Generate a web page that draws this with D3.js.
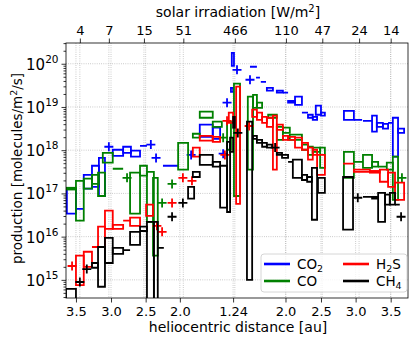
<!DOCTYPE html>
<meta charset="utf-8">
<style>
body { margin: 0; background: #fff; }
text { font-family: "DejaVu Sans", sans-serif; fill: #000; }
.grid line { stroke: #b0b0b0; stroke-width: 0.8; stroke-dasharray: 0.8,1.4; }
.axis path, .axis line { stroke: #000; stroke-width: 0.8; }
.axis text { font-size: 13px; }
</style>
<svg width="415" height="343"></svg>
<script src="https://d3js.org/d3.v7.min.js"></script>
<script>
// x is days from perihelion, y values are log10 of production [molecules/m2/s]
// boxes: [day start, day end, log10 low, log10 high]   markers: [day, log10 value]

var botTickDays = [-365, -284, -204, -125, -2, 119, 201, 281, 362];
var botTickLabels = ["3.5", "3.0", "2.5", "2.0", "1.24", "2.0", "2.5", "3.0", "3.5"];
var topTickDays = [-356, -289, -208, -117, 2, 120, 204, 289, 362];
var topTickLabels = ["4", "7", "15", "51", "466", "110", "47", "24", "14"];

var co2Boxes = [
  [-386, -365, 16.53, 17.11], [-365, -347, 16.64, 16.64], [-347, -328, 17.11, 17.43],
  [-328, -312, 17.15, 17.64], [-312, -298, 16.94, 17.82], [-280, -256, 17.87, 18.01],
  [-256, -238, 17.94, 18.08], [-238, -217, 17.85, 17.99], [-217, -201, 18.10, 18.10],
  [-164, -129, 17.64, 17.64], [-79, -49, 18.31, 18.59], [-49, -32, 18.26, 18.52],
  [-7, -2, 19.35, 19.44], [-5, 0, 19.95, 20.25], [37, 53, 19.93, 19.93],
  [51, 60, 19.68, 19.68], [62, 74, 19.58, 19.58], [76, 90, 19.38, 19.44],
  [99, 113, 19.33, 19.38], [113, 125, 19.33, 19.33], [125, 141, 19.10, 19.14],
  [141, 157, 19.05, 19.24], [157, 171, 18.87, 18.87], [171, 182, 18.75, 18.82],
  [182, 192, 18.70, 18.77], [189, 201, 18.82, 19.03], [201, 210, 18.80, 18.87],
  [254, 277, 18.70, 18.91], [277, 296, 18.70, 18.70], [298, 319, 18.68, 18.68],
  [319, 330, 18.43, 18.80], [330, 344, 18.54, 18.63], [344, 356, 18.50, 18.61],
  [356, 367, 18.63, 18.63], [367, 379, 17.85, 18.75], [379, 393, 18.40, 18.50]
];
var co2Marks = [[-289, 18.08], [-192, 18.13], [-180, 17.82], [-99, 17.89], [-25, 17.92],
  [-16, 19.10], [7, 19.86], [37, 19.63]];

var coBoxes = [
  [-386, -365, 17.09, 17.13], [-365, -347, 16.37, 17.29], [-347, -328, 17.11, 17.34],
  [-328, -312, 17.22, 17.43], [-314, -298, 16.94, 17.48], [-303, -280, 17.71, 17.94],
  [-280, -256, 17.57, 17.57], [-240, -217, 16.53, 17.48], [-217, -201, 17.41, 17.64],
  [-201, -185, 16.34, 17.50], [-187, -176, 15.56, 17.36], [-129, -106, 17.55, 18.17],
  [-95, -79, 18.29, 18.38], [-79, -49, 18.75, 18.89], [-49, -28, 18.54, 18.66],
  [-16, -7, 18.01, 18.66], [0, 14, 16.94, 19.54], [32, 44, 17.55, 19.24],
  [44, 53, 18.98, 19.28], [53, 65, 18.98, 19.10], [79, 99, 18.75, 18.82],
  [99, 113, 18.24, 18.54], [113, 129, 18.40, 18.52], [129, 157, 18.24, 18.36],
  [157, 171, 18.01, 18.13], [171, 182, 17.89, 18.08], [182, 199, 17.96, 18.06],
  [199, 210, 17.59, 18.06], [254, 277, 17.36, 17.96], [277, 298, 17.73, 17.73],
  [298, 319, 17.59, 17.89], [319, 333, 17.62, 17.73], [333, 353, 17.62, 17.62],
  [353, 367, 17.55, 17.71], [367, 379, 16.85, 17.85]
];
var coMarks = [[-247, 17.36], [-166, 16.78], [-143, 17.22], [-25, 18.29], [388, 17.36]];

var h2sBoxes = [
  [-365, -347, 14.88, 15.56], [-347, -328, 15.30, 15.65], [-328, -314, 15.76, 15.76],
  [-314, -298, 15.76, 16.23], [-298, -280, 16.18, 16.60], [-280, -256, 16.18, 16.27],
  [-256, -240, 16.37, 16.37], [-240, -217, 16.25, 16.44], [-203, -187, 16.48, 16.74],
  [-95, -79, 17.85, 18.06], [-79, -49, 18.22, 18.33], [-49, -32, 18.19, 18.31],
  [-12, -2, 18.63, 18.87], [5, 14, 16.76, 19.47], [42, 53, 18.77, 18.94],
  [53, 65, 18.70, 18.87], [65, 76, 18.63, 18.77], [76, 90, 18.54, 18.75],
  [90, 99, 17.55, 18.80], [99, 113, 18.47, 18.59], [113, 125, 18.24, 18.33],
  [125, 141, 18.24, 18.31], [141, 157, 18.06, 18.29], [157, 171, 18.01, 18.17],
  [171, 182, 17.78, 18.06], [182, 192, 17.89, 18.01], [192, 210, 17.43, 17.89],
  [252, 277, 17.69, 17.69], [277, 314, 17.50, 17.55], [314, 337, 17.48, 17.52],
  [337, 356, 17.27, 17.55], [356, 372, 17.15, 17.48], [372, 393, 16.85, 17.25]
];
var h2sMarks = [[-374, 15.32], [-178, 16.25], [-166, 16.11], [-143, 16.78], [-118, 17.36],
  [-97, 17.29], [-21, 17.89], [-16, 18.68], [35, 18.56]];

var ch4Boxes = [
  [-388, -365, 14.5, 14.79], [-328, -314, 15.28, 15.39], [-314, -298, 14.84, 15.76],
  [-298, -280, 15.39, 15.97], [-280, -256, 15.60, 15.74], [-256, -240, 15.69, 15.69],
  [-240, -217, 15.81, 16.11], [-217, -201, 16.13, 16.23], [-201, -185, 14.5, 16.34],
  [-185, -176, 14.5, 16.34], [-176, -162, 15.74, 15.74], [-106, -92, 16.88, 17.15],
  [-95, -79, 17.38, 17.50], [-79, -49, 17.66, 17.89], [-49, -32, 17.62, 17.73],
  [-32, -16, 16.67, 17.64], [-16, -9, 16.57, 18.19], [-9, -2, 17.96, 18.29],
  [-2, 2, 18.52, 18.77], [30, 42, 15.0, 18.66], [44, 53, 18.26, 18.33],
  [53, 65, 18.17, 18.24], [65, 76, 18.08, 18.17], [76, 88, 18.06, 18.13],
  [99, 111, 17.89, 17.94], [111, 125, 17.82, 17.89], [125, 136, 17.73, 17.73],
  [136, 157, 17.36, 17.78], [157, 169, 17.31, 17.43], [169, 180, 17.27, 17.38],
  [180, 192, 16.39, 17.59], [194, 210, 17.01, 17.36], [252, 275, 16.16, 17.38],
  [298, 319, 16.92, 16.92], [319, 333, 16.88, 16.92], [333, 349, 16.34, 17.01],
  [349, 360, 16.74, 16.97], [360, 372, 16.74, 17.01], [372, 383, 16.74, 16.74]
];
var ch4Marks = [[-356, 14.95], [-340, 15.25], [-143, 16.46], [-118, 16.78], [9, 18.40],
  [95, 18.06], [286, 16.90], [386, 16.46]];

var species = [
  {name: "CO2", sub: ["CO", "2", ""], color: "#0000ff", boxes: co2Boxes, marks: co2Marks},
  {name: "CO", sub: ["CO", "", ""], color: "#008000", boxes: coBoxes, marks: coMarks},
  {name: "H2S", sub: ["H", "2", "S"], color: "#ff0000", boxes: h2sBoxes, marks: h2sMarks},
  {name: "CH4", sub: ["CH", "4", ""], color: "#000000", boxes: ch4Boxes, marks: ch4Marks}
];

var svg = d3.select("svg");
var pLeft = 66, pRight = 408, pTop = 43, pBottom = 298;

var x = d3.scaleLinear().domain([-388, 402]).range([pLeft, pRight]);
var y = d3.scaleLog().domain([Math.pow(10, 14.58), Math.pow(10, 20.48)]).range([pBottom, pTop]);
function yl(v) { return y(Math.pow(10, v)); }

var majors = [1e15, 1e16, 1e17, 1e18, 1e19, 1e20];
var minors = [];
for (var k = 14; k <= 20; k++) {
  for (var m = 2; m <= 9; m++) {
    var v = m * Math.pow(10, k);
    if (v > y.domain()[0] && v < y.domain()[1]) minors.push(v);
  }
}

// grid
var grid = svg.append("g").attr("class", "grid");
grid.selectAll(".gx").data(botTickDays.concat(topTickDays)).enter().append("line")
    .attr("x1", function(d) { return x(d); }).attr("x2", function(d) { return x(d); })
    .attr("y1", pTop).attr("y2", pBottom);
grid.selectAll(".gy").data(majors).enter().append("line")
    .attr("x1", pLeft).attr("x2", pRight)
    .attr("y1", function(d) { return y(d); }).attr("y2", function(d) { return y(d); });

// data
svg.append("clipPath").attr("id", "plotclip").append("rect")
    .attr("x", pLeft).attr("y", pTop).attr("width", pRight - pLeft).attr("height", pBottom - pTop);
var plot = svg.append("g").attr("clip-path", "url(#plotclip)");

species.forEach(function(s) {
  var g = plot.append("g");
  g.selectAll("path.box").data(s.boxes).enter().append("path")
      .attr("class", "box")
      .attr("d", function(d) {
        var x0 = x(d[0]), x1 = x(d[1]), y0 = yl(d[2]), y1 = yl(d[3]);
        return "M" + x0 + "," + y0 + "H" + x1 + "V" + y1 + "H" + x0 + "Z";
      })
      .attr("fill", "none").attr("stroke", s.color).attr("stroke-width", 1.8)
      .attr("stroke-linejoin", "miter");
  g.selectAll("path.mk").data(s.marks).enter().append("path")
      .attr("class", "mk")
      .attr("d", function(d) {
        var cx = x(d[0]), cy = yl(d[1]), r = 4.5;
        return "M" + (cx - r) + "," + cy + "H" + (cx + r) + "M" + cx + "," + (cy - r) + "V" + (cy + r);
      })
      .attr("fill", "none").attr("stroke", s.color).attr("stroke-width", 1.8);
});

// axes
svg.append("g").attr("class", "axis")
    .attr("transform", "translate(0," + pBottom + ")")
    .call(d3.axisBottom(x).tickValues(botTickDays).tickSize(4.5).tickPadding(4.5)
      .tickFormat(function(d, i) { return botTickLabels[i]; }))
    .call(function(g) { g.select(".domain").remove(); });

svg.append("g").attr("class", "axis")
    .attr("transform", "translate(0," + pTop + ")")
    .call(d3.axisTop(x).tickValues(topTickDays).tickSize(4.5).tickPadding(4)
      .tickFormat(function(d, i) { return topTickLabels[i]; }))
    .call(function(g) { g.select(".domain").remove(); });

svg.append("g").attr("class", "axis")
    .attr("transform", "translate(" + pLeft + ",0)")
    .call(d3.axisLeft(y).tickValues(majors).tickSize(4.5).tickFormat(""))
    .call(function(g) { g.select(".domain").remove(); });
svg.append("g").attr("class", "axis")
    .attr("transform", "translate(" + pLeft + ",0)")
    .call(d3.axisLeft(y).tickValues(minors).tickSize(2.5).tickFormat(""))
    .call(function(g) { g.select(".domain").remove(); });

var ylab = svg.append("g").selectAll("text").data(majors).enter().append("text")
    .attr("x", pLeft - 7.5).attr("y", function(d) { return y(d) + 6; })
    .attr("text-anchor", "end").style("font-size", "15px");
ylab.append("tspan").text("10");
ylab.append("tspan").attr("dy", -7).style("font-size", "10.5px")
    .text(function(d) { return Math.round(Math.log10(d)); });

svg.append("rect").attr("x", pLeft).attr("y", pTop)
    .attr("width", pRight - pLeft).attr("height", pBottom - pTop)
    .attr("fill", "none").attr("stroke", "#000").attr("stroke-width", 0.8);

// axis titles
svg.append("text").attr("x", (pLeft + pRight) / 2 + 1).attr("y", 332).attr("text-anchor", "middle")
    .style("font-size", "14px").text("heliocentric distance [au]");
var tt = svg.append("text").attr("x", (pLeft + pRight) / 2 + 1).attr("y", 17).attr("text-anchor", "middle")
    .style("font-size", "14px");
tt.append("tspan").text("solar irradiation [W/m");
tt.append("tspan").attr("dy", -5.5).style("font-size", "10px").text("2");
tt.append("tspan").attr("dy", 5.5).text("]");
var yt = svg.append("text").attr("transform", "translate(22," + ((pTop + pBottom) / 2 - 2) + ") rotate(-90)")
    .attr("text-anchor", "middle").style("font-size", "13.5px");
yt.append("tspan").text("production [molecules/m");
yt.append("tspan").attr("dy", -5).style("font-size", "9.5px").text("2");
yt.append("tspan").attr("dy", 5).text("/s]");

// legend
var lg = svg.append("g");
lg.append("rect").attr("x", 261).attr("y", 254).attr("width", 146).attr("height", 38)
    .attr("rx", 3).attr("fill", "#fff").attr("fill-opacity", 0.8)
    .attr("stroke", "#cccccc").attr("stroke-width", 0.8);
var legPos = [[264, 264], [264, 281], [343, 264], [343, 281]];
species.forEach(function(s, i) {
  var p = legPos[i];
  lg.append("line").attr("x1", p[0]).attr("x2", p[0] + 26).attr("y1", p[1]).attr("y2", p[1])
      .attr("stroke", s.color).attr("stroke-width", 2.6);
  var t = lg.append("text").attr("x", p[0] + 33).attr("y", p[1] + 5).style("font-size", "13.5px");
  t.append("tspan").text(s.sub[0]);
  if (s.sub[1]) t.append("tspan").attr("dy", 3).style("font-size", "9.5px").text(s.sub[1]);
  if (s.sub[2]) t.append("tspan").attr("dy", -3).text(s.sub[2]);
});
</script>
